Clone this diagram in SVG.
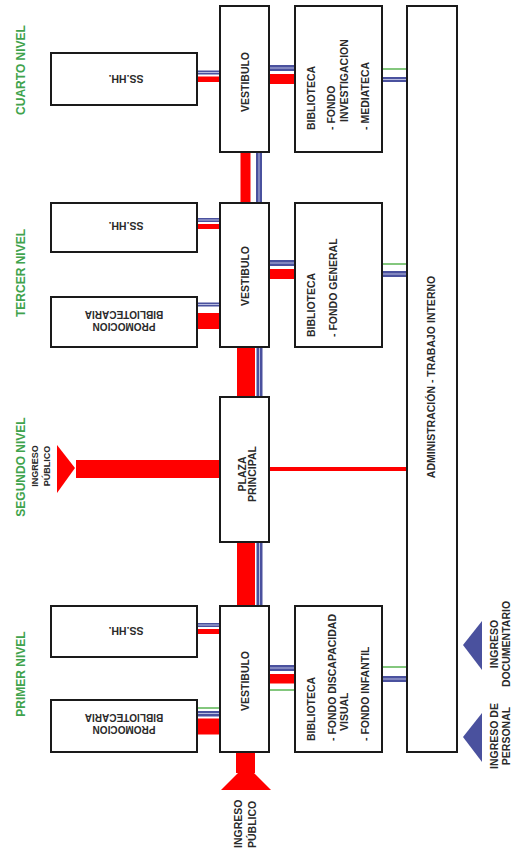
<svg xmlns="http://www.w3.org/2000/svg" width="515" height="855" viewBox="0 0 515 855">
<style>
.box{fill:#fff;stroke:#1a1a1a;stroke-width:2}
.t{font-family:"Liberation Sans",Arial,sans-serif;font-size:10.5px;font-weight:bold;fill:#2a2a2a}
.m{text-anchor:middle}
.lvl{font-family:"Liberation Sans",Arial,sans-serif;font-size:12px;font-weight:bold;fill:#3fa34d;text-anchor:middle}
.red{fill:#ff0000}
.blue{fill:#4a519e}
.core{fill:#b9bde0}
.grn{stroke:#5ab552;stroke-width:1.5;fill:none}
.rl{stroke:#ff0000;stroke-width:4;fill:none}
.tb{fill:#4a519e}
</style>
<rect width="515" height="855" fill="#fff"/>
<g id="connectors">
  <!-- cuarto -->
  <rect class="blue" x="197" y="70.5" width="23" height="4"/><rect class="core" x="197" y="72" width="23" height="1"/>
  <rect class="red" x="197" y="76.5" width="23" height="5.5"/>
  <rect class="blue" x="269" y="65" width="26" height="6"/><rect class="core" x="269" y="67.5" width="26" height="1"/>
  <rect class="red" x="269" y="74" width="26" height="10"/>
  <line class="grn" x1="382" y1="69" x2="407" y2="69"/>
  <rect class="blue" x="382" y="77" width="25" height="5"/><rect class="core" x="382" y="79" width="25" height="1"/>
  <rect class="red" x="240.5" y="152" width="10" height="51"/>
  <rect class="blue" x="256" y="152" width="6" height="51"/><rect class="core" x="258.5" y="152" width="1" height="51"/>
  <!-- tercer -->
  <rect class="blue" x="197" y="218" width="23" height="4"/><rect class="core" x="197" y="219.5" width="23" height="1"/>
  <rect class="red" x="197" y="224" width="23" height="5"/>
  <rect class="blue" x="197" y="302.5" width="23" height="4"/><rect class="core" x="197" y="304" width="23" height="1"/>
  <rect class="red" x="197" y="313" width="23" height="16"/>
  <rect class="blue" x="269" y="260" width="26" height="6"/><rect class="core" x="269" y="262.5" width="26" height="1"/>
  <rect class="red" x="269" y="269" width="26" height="10"/>
  <line class="grn" x1="382" y1="264" x2="407" y2="264"/>
  <rect class="blue" x="382" y="271" width="25" height="6"/><rect class="core" x="382" y="273.5" width="25" height="1"/>
  <rect class="red" x="237" y="347" width="18" height="50"/>
  <rect class="blue" x="256.5" y="347" width="6" height="50"/><rect class="core" x="259" y="347" width="1" height="50"/>
  <!-- segundo -->
  <polygon class="red" points="57,445 57,493 75,468"/>
  <rect class="red" x="76" y="460" width="144" height="18"/>
  <line class="rl" x1="269" y1="469" x2="407" y2="469"/>
  <rect class="red" x="237" y="542" width="18" height="64"/>
  <rect class="blue" x="256.5" y="542" width="6" height="64"/><rect class="core" x="259" y="542" width="1" height="64"/>
  <!-- primer -->
  <rect class="blue" x="197" y="623" width="23" height="4"/><rect class="core" x="197" y="624.5" width="23" height="1"/>
  <rect class="red" x="197" y="629" width="23" height="5"/>
  <line class="grn" x1="197" y1="708" x2="220" y2="708"/>
  <rect class="blue" x="197" y="711" width="23" height="5.5"/><rect class="core" x="197" y="713" width="23" height="1"/>
  <rect class="red" x="197" y="718.5" width="23" height="16"/>
  <rect class="blue" x="269" y="665" width="26" height="6"/><rect class="core" x="269" y="667.5" width="26" height="1"/>
  <rect class="red" x="269" y="674" width="26" height="9.5"/>
  <line class="grn" x1="269" y1="690" x2="295" y2="690"/>
  <line class="grn" x1="382" y1="667" x2="407" y2="667"/>
  <rect class="blue" x="382" y="676" width="25" height="6"/><rect class="core" x="382" y="678.5" width="25" height="1"/>
  <rect class="red" x="236" y="752" width="19" height="21"/>
  <polygon class="red" points="221,790 271,790 246,765"/>
  <polygon class="tb" points="463,645 482,621 482,670"/>
  <polygon class="tb" points="463,737 482,713 482,762"/>
</g>
<g id="labels-levels">
  <text class="lvl" transform="translate(24.5,70) rotate(-90)">CUARTO NIVEL</text>
  <text class="lvl" transform="translate(24.5,273) rotate(-90)">TERCER NIVEL</text>
  <text class="lvl" transform="translate(24.5,467) rotate(-90)">SEGUNDO NIVEL</text>
  <text class="lvl" transform="translate(24.5,674) rotate(-90)">PRIMER NIVEL</text>
</g>
<g id="ingreso-publico-2">
  <text class="t m" style="font-size:9px" transform="translate(37.5,466) rotate(-90)">INGRESO<tspan x="0" y="12">PÚBLICO</tspan></text>
</g>
<g id="ss4"><rect class="box" x="51" y="53" width="146" height="52"/>
  <text class="t m" transform="translate(126,75) rotate(180)">SS.HH.</text></g>
<g id="vest4"><rect class="box" x="220" y="6" width="49" height="146"/>
  <text class="t m" transform="translate(248.5,82) rotate(-90)">VESTIBULO</text></g>
<g id="bib4"><rect class="box" x="295" y="6" width="87" height="146"/>
  <text class="t" transform="translate(315,130) rotate(-90)">BIBLIOTECA<tspan x="0" y="20">- FONDO</tspan><tspan x="8" y="33">INVESTIGACION</tspan><tspan x="0" y="54">- MEDIATECA</tspan></text></g>
<g id="admin"><rect class="box" x="407" y="6" width="50" height="746"/>
  <text class="t m" transform="translate(435,377) rotate(-90)">ADMINISTRACIÓN - TRABAJO INTERNO</text></g>
<g id="ss3"><rect class="box" x="51" y="203" width="146" height="49"/>
  <text class="t m" transform="translate(126,222) rotate(180)">SS.HH.</text></g>
<g id="promo3"><rect class="box" x="51" y="297" width="146" height="50"/>
  <text class="t m" style="font-size:10px" transform="translate(124,323) rotate(180)">PROMOCION<tspan x="0" y="12">BIBLIOTECARIA</tspan></text></g>
<g id="vest3"><rect class="box" x="220" y="203" width="49" height="144"/>
  <text class="t m" transform="translate(248.5,276) rotate(-90)">VESTIBULO</text></g>
<g id="bib3"><rect class="box" x="295" y="203" width="87" height="144"/>
  <text class="t" transform="translate(315,337) rotate(-90)">BIBLIOTECA<tspan x="0" y="22">- FONDO GENERAL</tspan></text></g>
<g id="plaza"><rect class="box" x="220" y="397" width="49" height="145"/>
  <text class="t m" transform="translate(245.5,474) rotate(-90)">PLAZA<tspan x="0" y="10.5">PRINCIPAL</tspan></text></g>
<g id="ss1"><rect class="box" x="51" y="606" width="146" height="51"/>
  <text class="t m" transform="translate(126,627) rotate(180)">SS.HH.</text></g>
<g id="promo1"><rect class="box" x="51" y="700" width="146" height="52"/>
  <text class="t m" style="font-size:10px" transform="translate(124,726) rotate(180)">PROMOCION<tspan x="0" y="12">BIBLIOTECARIA</tspan></text></g>
<g id="vest1"><rect class="box" x="220" y="606" width="49" height="146"/>
  <text class="t m" transform="translate(248.5,681) rotate(-90)">VESTIBULO</text></g>
<g id="bib1"><rect class="box" x="295" y="606" width="87" height="146"/>
  <text class="t" transform="translate(315,741) rotate(-90)">BIBLIOTECA<tspan x="0" y="21">- FONDO DISCAPACIDAD</tspan><tspan x="10" y="33">VISUAL</tspan><tspan x="0" y="54">- FONDO INFANTIL</tspan></text></g>
<g id="ingreso-publico-1">
  <text class="t" transform="translate(242,848) rotate(-90)">INGRESO<tspan x="0" y="14">PÚBLICO</tspan></text></g>
<g id="ingreso-documentario">
  <text class="t m" transform="translate(498,644) rotate(-90)">INGRESO<tspan x="0" y="12">DOCUMENTARIO</tspan></text></g>
<g id="ingreso-personal">
  <text class="t m" transform="translate(498,736) rotate(-90)">INGRESO DE<tspan x="0" y="12">PERSONAL</tspan></text></g>
</svg>
